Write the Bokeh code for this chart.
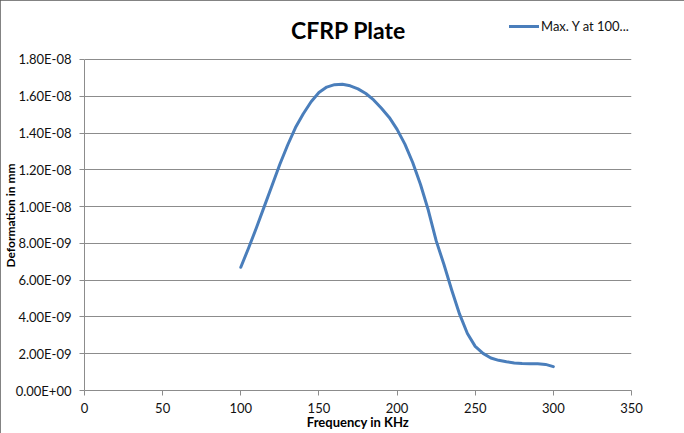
from bokeh.plotting import figure
from bokeh.models import Range1d, FixedTicker, Label, Legend, LegendItem, Title
from bokeh.embed import file_html
from bokeh.resources import INLINE

# ---- data ----
freq_khz = [100, 105, 110, 115, 120, 125, 130, 135, 140, 145, 150, 155, 160,
            165, 170, 175, 180, 185, 190, 195, 200, 205, 210, 215, 220, 225,
            230, 235, 240, 245, 250, 255, 260, 265, 270, 275, 280, 285, 290,
            295, 300]
deformation_mm = [6.70e-9, 7.75e-9, 8.85e-9, 10.0e-9, 11.15e-9, 12.3e-9,
                  13.35e-9, 14.3e-9, 15.05e-9, 15.7e-9, 16.2e-9, 16.5e-9,
                  16.63e-9, 16.65e-9, 16.57e-9, 16.4e-9, 16.15e-9, 15.8e-9,
                  15.35e-9, 14.85e-9, 14.2e-9, 13.4e-9, 12.4e-9, 11.2e-9,
                  9.8e-9, 8.15e-9, 6.85e-9, 5.45e-9, 4.15e-9, 3.1e-9, 2.4e-9,
                  2.02e-9, 1.77e-9, 1.64e-9, 1.56e-9, 1.5e-9, 1.47e-9, 1.46e-9,
                  1.45e-9, 1.42e-9, 1.30e-9]

x_ticks = [0, 50, 100, 150, 200, 250, 300, 350]
y_ticks = [0.0, 2e-9, 4e-9, 6e-9, 8e-9, 1e-8, 1.2e-8, 1.4e-8, 1.6e-8, 1.8e-8]
y_tick_labels = ["0.00E+00", "2.00E-09", "4.00E-09", "6.00E-09", "8.00E-09",
                 "1.00E-08", "1.20E-08", "1.40E-08", "1.60E-08", "1.80E-08"]

title_text = "CFRP Plate"
series_name = "Max. Y at 100..."
x_label = "Frequency in KHz"
y_label = "Deformation in mm"

FONT = "Lato"
LINE_COLOR = "#4A7EBB"
GRID_COLOR = "#8C8C8C"

# frame extends above the top tick to hold the title and legend
Y_TOP = 2.0773e-8

p = figure(width=684, height=433, output_backend="svg", toolbar_location=None,
           title=None, x_range=Range1d(0, 350), y_range=Range1d(0, Y_TOP),
           min_border_left=84, min_border_right=53, min_border_top=8,
           min_border_bottom=43)
p.outline_line_color = None
p.background_fill_color = "white"
p.border_fill_color = "white"
p.styles = {"outline": "2px solid #5A5A5A", "outline-offset": "-2px"}

r = p.line(freq_khz, deformation_mm, line_color=LINE_COLOR, line_width=3,
           line_join="round", line_cap="round")

# axes
p.xaxis.ticker = FixedTicker(ticks=x_ticks)
p.yaxis.ticker = FixedTicker(ticks=y_ticks)
p.yaxis.bounds = (y_ticks[0], y_ticks[-1])
p.yaxis.major_label_overrides = {t: s for t, s in zip(y_ticks, y_tick_labels)}
for ax in (p.xaxis, p.yaxis):
    ax.axis_line_color = GRID_COLOR
    ax.major_tick_line_color = GRID_COLOR
    ax.major_tick_out = 5
    ax.major_tick_in = 0
    ax.minor_tick_line_color = None
    ax.major_label_text_font = FONT
    ax.major_label_text_font_size = "13px"
    ax.major_label_text_color = "#111111"
p.xaxis.major_label_standoff = 7
p.yaxis.major_label_standoff = 8

p.xaxis.axis_label = x_label
p.xaxis.axis_label_text_font = FONT
p.xaxis.axis_label_text_font_size = "13px"
p.xaxis.axis_label_text_font_style = "bold"
p.xaxis.axis_label_text_color = "#000000"
p.xaxis.axis_label_standoff = -2

p.xgrid.grid_line_color = None
p.ygrid.grid_line_color = GRID_COLOR
p.ygrid.grid_line_width = 1

# y axis title on the left side (text starts 123 px above the frame bottom)
p.add_layout(Title(text=y_label, align="left", offset=123, standoff=-10,
                   text_font=FONT, text_font_size="12px",
                   text_font_style="bold", text_color="#000000"), "left")

# chart title (inside the extended frame, above the plot area)
p.add_layout(Label(x=168.9, y=1.9577e-8, text=title_text, text_font=FONT,
                   text_font_size="23px", text_font_style="bold",
                   text_align="center", text_baseline="middle",
                   text_color="#000000"))

# legend
legend = Legend(items=[LegendItem(label=series_name, renderers=[r])],
                location=(425, 356), padding=0, margin=0, spacing=0,
                glyph_width=30, glyph_height=14, label_height=14,
                label_standoff=2, border_line_color=None,
                background_fill_alpha=0, label_text_font=FONT,
                label_text_font_size="13px", label_text_color="#111111")
p.add_layout(legend)

open("out.html", "w").write(file_html(p, INLINE))
